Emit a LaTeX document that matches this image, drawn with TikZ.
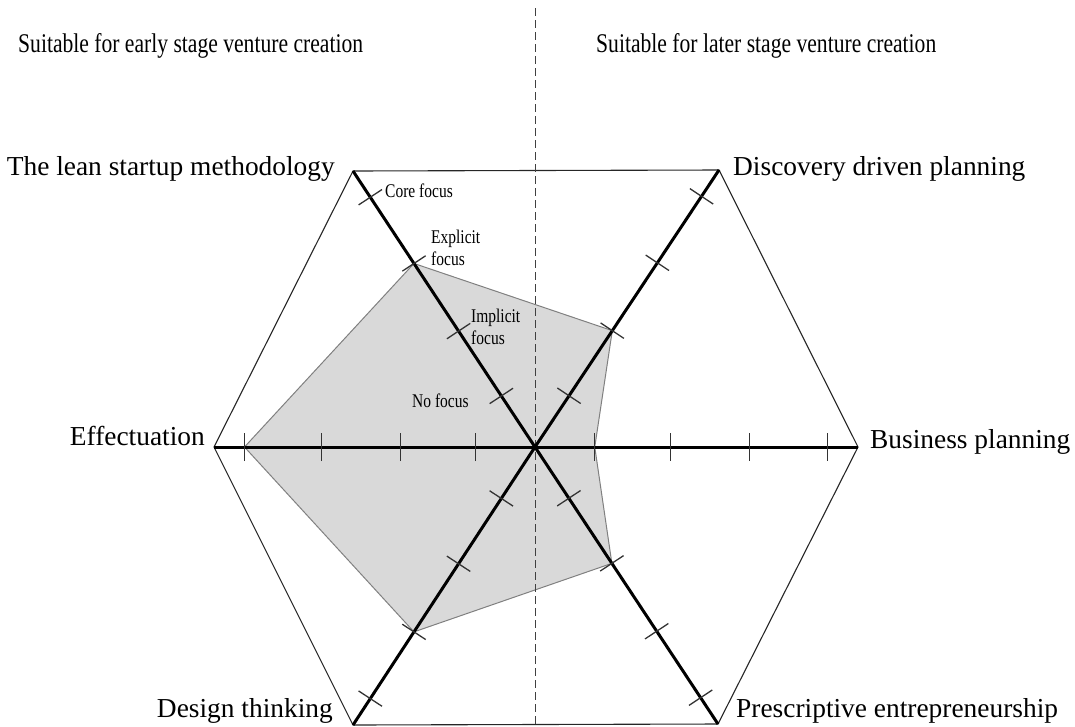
\documentclass[tikz,border=0pt]{standalone}
\usepackage{graphicx}
\usepackage{fontspec}
\setmainfont{Liberation Serif}
\usetikzlibrary{calc}

\newcommand{\tallword}[1]{\scalebox{1}[1.25]{#1}}

\tikzset{
  axis/.style={line width=3pt, black},
  hexline/.style={line width=1.1pt, black!85},
  tickline/.style={line width=1.3pt, black!80},
  divider/.style={line width=1pt, black!75, dash pattern=on 8pt off 4pt},
  area/.style={fill=black!15, draw=black!50, line width=1pt},
  axlabel/.style={inner sep=0pt, font=\fontsize{27.4}{31}\selectfont},
  toplabel/.style={inner sep=0pt, font=\fontsize{21.6}{26}\selectfont},
  levlabel/.style={inner sep=0pt, align=left, font=\fontsize{15.5}{22}\selectfont},
}

\begin{document}
\begin{tikzpicture}[x=1pt,y=-1pt]
\useasboundingbox (0,0) rectangle (1075,726);
% hub and axis ends
\coordinate (c) at (535,447);
\coordinate (eff) at (214,447);
\coordinate (lean) at (353,171);
\coordinate (disc) at (719,170);
\coordinate (biz) at (858,447);
\coordinate (presc) at (718,724);
\coordinate (design) at (353,725);
\coordinate (dtop) at (535,8);
\coordinate (dbot) at (535,726);

% level points on every axis
\foreach \ax in {eff,lean,disc,biz,presc,design}{
  \foreach \lev/\f in {1/0.185,2/0.42,3/0.665,4/0.905}
    \coordinate (\ax-\lev) at ($(c)!\f!(\ax)$);
}

% profile
\path[area] (eff-4) -- (lean-3) -- (disc-2) -- (biz-1) -- (presc-2) -- (design-3) -- cycle;

% frame
\draw[hexline] (eff) -- (lean) -- (disc) -- (biz) -- (presc) -- (design) -- cycle;
\draw[divider] (dtop) -- (dbot);

% axes and ticks
\foreach \ax in {eff,lean,disc,biz,presc,design}{
  \draw[axis] (c) -- (\ax);
  \foreach \lev in {1,...,4}
    \draw[tickline] ($(\ax-\lev)!14pt!90:(\ax)$) -- ($(\ax-\lev)!14pt!-90:(\ax)$);
}

% method labels
\node[axlabel, anchor=base east] (efflbl) at ([xshift=-9pt,yshift=2pt]eff) {Effectuation};
\node[axlabel, anchor=base east] (leanlbl) at ([xshift=-18pt,yshift=-4pt]lean) {The lean startup methodology};
\node[axlabel, anchor=base west] (disclbl) at ([xshift=14pt,yshift=-5pt]disc) {Discovery driven planning};
\node[axlabel, anchor=base west] (bizlbl) at ([xshift=12pt,yshift=-1pt]biz) {Business planning};
\node[axlabel, anchor=base west] (presclbl) at ([xshift=18pt,yshift=7pt]presc) {Prescriptive entrepreneurship};
\node[axlabel, anchor=base east] (designlbl) at ([xshift=-20pt,yshift=8pt]design) {Design thinking};

% stage headings
\node[toplabel, anchor=base west] (early) at (18,52) {\tallword{Suitable for early stage venture creation}};
\node[toplabel, anchor=base west] (later) at (596,52) {\tallword{Suitable for later stage venture creation}};

% focus levels
\node[levlabel, anchor=base west] (core) at (385,197) {\tallword{Core focus}};
\node[levlabel, anchor=north west] (expl) at (431,230) {\tallword{Explicit}\\\tallword{focus}};
\node[levlabel, anchor=north west] (impl) at (471,309) {\tallword{Implicit}\\\tallword{focus}};
\node[levlabel, anchor=base west] (nofoc) at (412,407) {\tallword{No focus}};
\end{tikzpicture}
\end{document}
